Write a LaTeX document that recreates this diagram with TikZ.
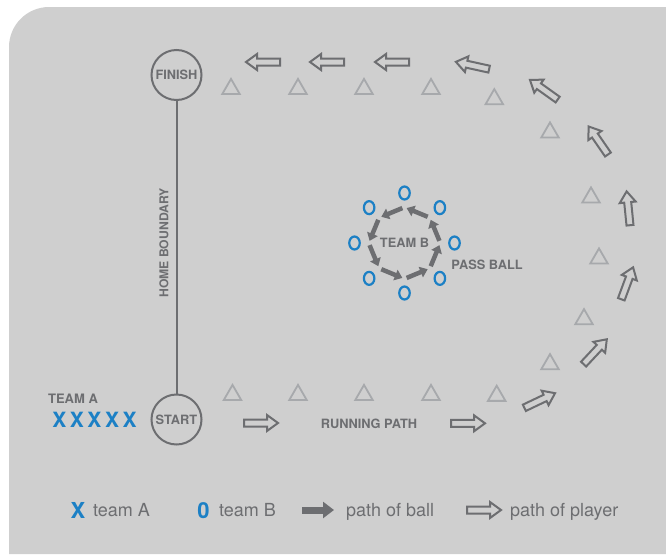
\documentclass[tikz,border=0pt]{standalone}
\usepackage{fontspec}
\setmainfont{TeX Gyre Heros}
\usetikzlibrary{arrows.meta,shapes.geometric,calc}
\definecolor{bggray}{RGB}{207,207,207}
\definecolor{dgray}{RGB}{109,110,113}
\definecolor{tgray}{RGB}{167,169,172}
\definecolor{tblue}{RGB}{28,128,197}
\begin{document}
\begin{tikzpicture}[x=1pt,y=-1pt,
  lbl/.style={text=dgray,font=\bfseries\fontsize{12.8}{14}\selectfont,inner sep=0pt},
  station/.style={circle,draw=dgray,line width=2pt,minimum size=50pt,inner sep=0pt,text=dgray,font=\bfseries\fontsize{12.8}{14}\selectfont},
  cone/.style={regular polygon,regular polygon sides=3,draw=tgray,line width=1.8pt,minimum size=20.2pt,inner sep=0pt},
  playerO/.style={ellipse,draw=tblue,line width=2.2pt,minimum width=10.5pt,minimum height=13pt,inner sep=0pt},
  ballarrow/.style={draw=dgray,line width=4.5pt,-{Triangle[length=7.5pt,width=11pt]}},
  hollow/.style={draw=dgray,line width=2pt},
  parrow/.pic={\draw[hollow] (-17,-3.5) -- (6,-3.5) -- (6,-8) -- (17,0) -- (6,8) -- (6,3.5) -- (-17,3.5) -- cycle;},
  legtext/.style={text=dgray,font=\fontsize{18}{20}\selectfont,inner sep=0pt,anchor=base west},
  bigletter/.style={text=tblue,font=\bfseries\fontsize{22}{24}\selectfont,inner sep=0pt}
]
\useasboundingbox (0,0) rectangle (666,554);
\fill[bggray] (9,554) -- (9,47) .. controls (9,25) and (27,7) .. (49,7) -- (666,7) -- (666,554) -- cycle;

% home boundary
\node[station] (finish) at (176.5,75) {FINISH};
\node[station] (start) at (176.5,419.5) {START};
\draw[dgray,line width=2pt] (finish) -- (start);
\node[lbl,rotate=90,font=\bfseries\fontsize{12.2}{14}\selectfont] (home) at (164,243) {HOME BOUNDARY};

% team A
\node[lbl,font=\bfseries\fontsize{13}{15}\selectfont] (teamA) at (73,398.5) {TEAM A};
\node[text=tblue,font=\bfseries\fontsize{21}{24}\selectfont,inner sep=0pt] (xs) at (94.5,419.5) {X\hspace{3.6pt}X\hspace{3.6pt}X\hspace{3.6pt}X\hspace{3.6pt}X};

% cones
\foreach \px/\py [count=\i] in {231/89,298/89,364/89,431/89,494.3/99.2,550/132.5,591/197.5,599/258.5,584/319.2,550/364.2,496.7/395.8,431/395,364/395,298/395,232.5/395} {
  \node[cone] (cone\i) at (\px,\py) {};
}

% running path arrows
\foreach \px/\py/\ang in {263/62/180,327/62/180,392/62/180,472.5/65.5/167.6,543.8/89.7/144.5,598.3/140.5/124.6,628.3/208.3/95.7,627.2/283.3/69.7,595.2/351.7/46.9,539.7/400.5/25.5,468/423.3/0,261/423/0} {
  \pic[rotate=\ang] at (\px,\py) {parrow};
}
\node[lbl] (running) at (369,424) {RUNNING PATH};

% team B
\coordinate (c) at (404.5,243);
\node[lbl] (teamB) at (c) {TEAM B};
\foreach \a [count=\i] in {0,45,90,135,180,225,270,315} {
  \node[playerO] (o\i) at ($(c)+(-\a:50)$) {};
}
\foreach \m [count=\i] in {22.5,67.5,112.5,157.5,202.5,247.5,292.5,337.5} {
  \coordinate (bs\i) at ($(c)+({-(\m-19)}:35)$);
  \coordinate (be\i) at ($(c)+({-(\m+19)}:35)$);
  \draw[ballarrow] (bs\i) -- (be\i);
}
\node[lbl] (pass) at (487,265) {PASS BALL};

% legend
\node[bigletter] (legX) at (78,510) {X};
\node[legtext] (legXt) at (93,516.5) {team A};
\node[bigletter] (legO) at (203.5,510.5) {0};
\node[legtext] (legOt) at (219,516.5) {team B};
\coordinate (lb1) at (302,510);
\coordinate (lb2) at (334,510);
\draw[dgray,line width=7pt,-{Triangle[length=11pt,width=16pt]}] (lb1) -- (lb2);
\node[legtext] (legball) at (346,516.5) {path of ball};
\pic at (484,510) {parrow};
\node[legtext] (legplayer) at (510,516.5) {path of player};
\end{tikzpicture}
\end{document}
